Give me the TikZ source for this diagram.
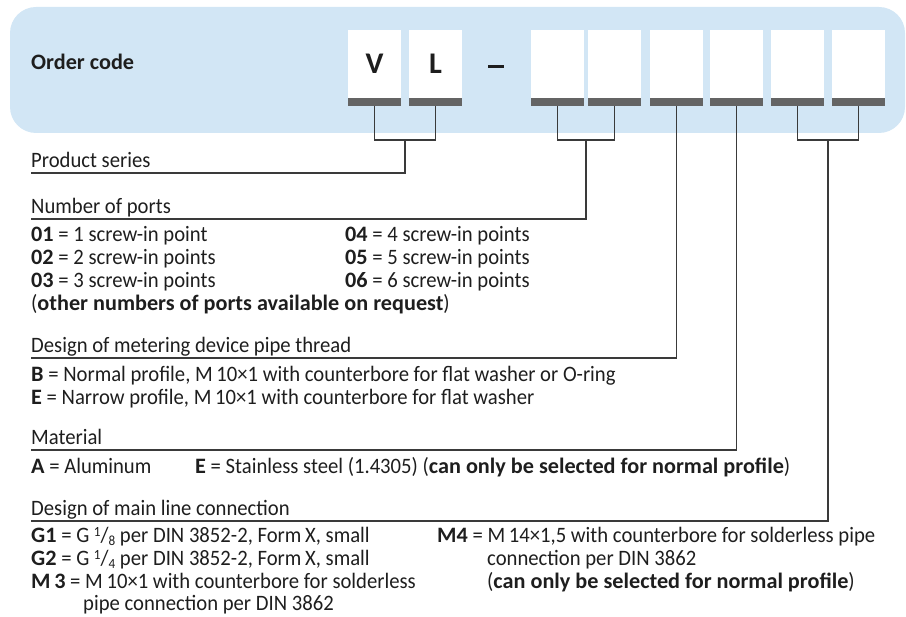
\documentclass[tikz,border=0pt]{standalone}
\usepackage{fontspec}
\usetikzlibrary{calc}
\setmainfont{Carlito}[FakeStretch=0.94, BoldFeatures={FakeStretch=1.01}]
\definecolor{bannerblue}{HTML}{D2E6F5}
\definecolor{bargray}{HTML}{646464}
\definecolor{ink}{HTML}{1E1E1E}
\definecolor{wire}{HTML}{3A3A3A}
\newcommand\gfrac[2]{{\fontsize{14}{14}\selectfont\raisebox{6pt}{#1}}/{\fontsize{14}{14}\selectfont\raisebox{-3pt}{#2}}}
\tikzset{
  cell/.style={fill=white, minimum width=53pt, minimum height=68pt, inner sep=0pt, outer sep=0pt,
    font=\fontsize{30}{30}\selectfont\bfseries, text=ink},
  codebar/.style={fill=bargray, minimum width=53pt, minimum height=8pt, inner sep=0pt, outer sep=0pt},
  conn/.style={draw=wire, line width=1.2pt},
  txt/.style={anchor=base west, inner sep=0pt, text=ink, font=\fontsize{22}{22}\selectfont},
}
\begin{document}
\begin{tikzpicture}[x=1pt,y=-1pt]
\useasboundingbox (0,0) rectangle (906,617);
% banner
\fill[bannerblue, rounded corners=26pt] (10,7) rectangle (905,133);
\node[anchor=base west, inner sep=0pt, text=ink, font=\fontsize{22}{22}\selectfont\bfseries] (title) at (31,70) {Order code};
% code cells
\node[cell] (cV) at (374.5,64) {V};
\node[cell] (cL) at (435.5,64) {L};
\draw[ink, line width=3.2pt] (488,66.5) -- (504,66.5);
\node[cell] (c1) at (557.5,64) {};
\node[cell] (c2) at (614.5,64) {};
\node[cell] (c3) at (676.5,64) {};
\node[cell] (c4) at (736.5,64) {};
\node[cell] (c5) at (797.5,64) {};
\node[cell] (c6) at (858.5,64) {};
\foreach \c in {V,L,1,2,3,4,5,6}{
  \node[codebar, anchor=north] (bar\c) at (c\c.south) {};
}
% junction heights and label line ends
\coordinate (brk) at (0,140);
\coordinate (eSeries) at (31,173);
\coordinate (ePorts) at (31,219);
\coordinate (eThread) at (31,358);
\coordinate (eMat) at (31,450);
\coordinate (eMain) at (31,521);
% connectors
\draw[conn] (barV.south) -- (barV.south |- brk) -- (barL.south |- brk) -- (barL.south);
\coordinate (jSeries) at ($(barV.south |- brk)!0.5!(barL.south |- brk)$);
\draw[conn] (jSeries) |- (eSeries);
\draw[conn] (bar1.south) -- (bar1.south |- brk) -- (bar2.south |- brk) -- (bar2.south);
\coordinate (jPorts) at ($(bar1.south |- brk)!0.5!(bar2.south |- brk)$);
\draw[conn] (jPorts) |- (ePorts);
\draw[conn] (bar3.south) |- (eThread);
\draw[conn] (bar4.south) |- (eMat);
\draw[conn] (bar5.south) -- (bar5.south |- brk) -- (bar6.south |- brk) -- (bar6.south);
\coordinate (jMain) at ($(bar5.south |- brk)!0.5!(bar6.south |- brk)$);
\draw[conn] (jMain) |- (eMain);
% product series
\node[txt] (lSeries) at (31,168) {Product series};
% number of ports
\node[txt] (lPorts) at (31,214) {Number of ports};
\node[txt] (p1) at (31,242) {\textbf{01} = 1 screw-in point};
\node[txt] (p2) at (31,265) {\textbf{02} = 2 screw-in points};
\node[txt] (p3) at (31,288) {\textbf{03} = 3 screw-in points};
\node[txt] (p4) at (345,242) {\textbf{04} = 4 screw-in points};
\node[txt] (p5) at (345,265) {\textbf{05} = 5 screw-in points};
\node[txt] (p6) at (345,288) {\textbf{06} = 6 screw-in points};
\node[txt] (pOther) at (31,311) {(\textbf{other numbers of ports available on request})};
% thread design
\node[txt] (lThread) at (31,353) {Design of metering device pipe thread};
\node[txt] (tB) at (31,382) {\textbf{B} = Normal profile, M\,10×1 with counterbore for flat washer or O-ring};
\node[txt] (tE) at (31,405) {\textbf{E} = Narrow profile, M\,10×1 with counterbore for flat washer};
% material
\node[txt] (lMat) at (31,445) {Material};
\node[txt] (mA) at (31,474) {\textbf{A} = Aluminum};
\node[txt] (mE) at (195,474) {\textbf{E} = Stainless steel (1.4305) (\textbf{can only be selected for normal profile})};
% main line connection
\node[txt] (lMain) at (31,516) {Design of main line connection};
\node[txt] (g1) at (31,543) {\textbf{G1} = G \gfrac{1}{8} per DIN 3852-2, Form\,X, small};
\node[txt] (g2) at (31,566) {\textbf{G2} = G \gfrac{1}{4} per DIN 3852-2, Form\,X, small};
\node[txt] (m3) at (31,588.5) {\textbf{M\,3} = M\,10×1 with counterbore for solderless};
\node[txt] (m3b) at (83,611) {pipe connection per DIN 3862};
\node[txt] (m4) at (437,543) {\textbf{M4} = M\,14×1,5 with counterbore for solderless pipe};
\node[txt] (m4b) at (487,566) {connection per DIN 3862};
\node[txt] (m4c) at (487,588.5) {(\textbf{can only be selected for normal profile})};
\end{tikzpicture}
\end{document}
